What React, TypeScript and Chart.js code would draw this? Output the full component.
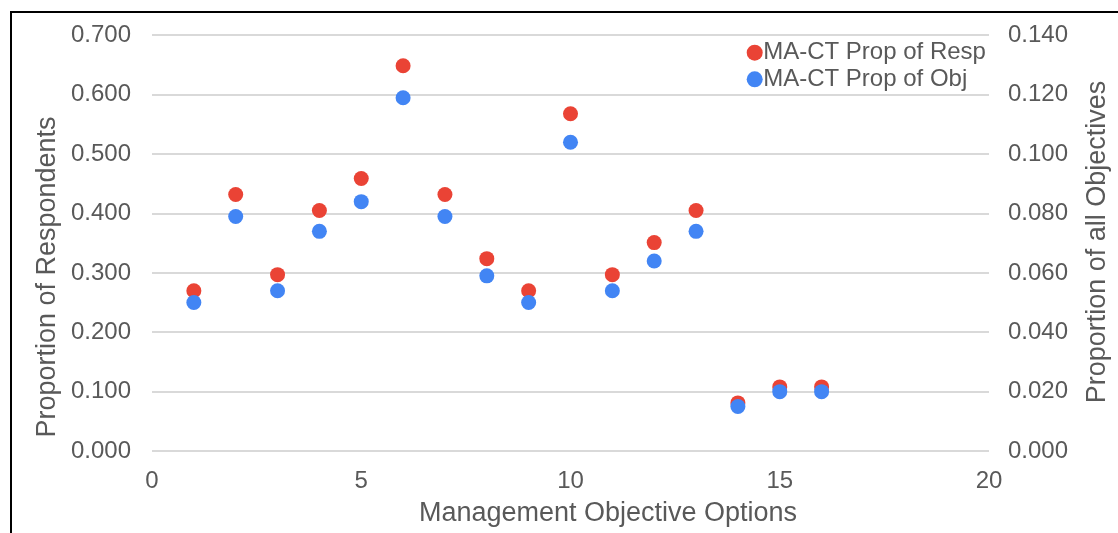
import React, { useEffect, useRef } from "react";
import { Chart, registerables } from "chart.js";

Chart.register(...registerables);

// ---- data ----
const optionNumbers = [1, 2, 3, 4, 5, 6, 7, 8, 9, 10, 11, 12, 13, 14, 15, 16];
const propOfResp = [0.270, 0.432, 0.297, 0.405, 0.459, 0.649, 0.432, 0.324, 0.270, 0.568, 0.297, 0.351, 0.405, 0.081, 0.108, 0.108];
const propOfObj = [0.050, 0.079, 0.054, 0.074, 0.084, 0.119, 0.079, 0.059, 0.050, 0.104, 0.054, 0.064, 0.074, 0.015, 0.020, 0.020];
const seriesLabels = ["MA-CT Prop of Resp", "MA-CT Prop of Obj"];
const xTitle = "Management Objective Options";
const yLeftTitle = "Proportion of Respondents";
const yRightTitle = "Proportion of all Objectives";

const FONT = "'Liberation Sans', Arial, sans-serif";
const TEXT = "#595959";
const RED = "#EA4335";
const BLUE = "#4285F4";
const GRID = "#D9D9D9";

const insideLegend = {
  id: "insideLegend",
  afterDraw(chart: any, _args: any, opts: any) {
    const ctx = chart.ctx;
    ctx.save();
    ctx.font = `${opts.fontSize}px ${FONT}`;
    ctx.textBaseline = "middle";
    ctx.textAlign = "left";
    chart.data.datasets.forEach((ds: any, i: number) => {
      const y = opts.y + i * opts.lineGap;
      ctx.fillStyle = ds.backgroundColor;
      ctx.beginPath();
      ctx.arc(opts.x, y, opts.r, 0, Math.PI * 2);
      ctx.fill();
      ctx.fillStyle = TEXT;
      ctx.fillText(ds.label, opts.x + opts.textGap, y);
    });
    ctx.restore();
  },
};

const axisTitles = {
  id: "axisTitles",
  afterDraw(chart: any, _args: any, opts: any) {
    const ctx = chart.ctx;
    ctx.save();
    ctx.font = `${opts.fontSize}px ${FONT}`;
    ctx.fillStyle = TEXT;
    ctx.textBaseline = "middle";
    ctx.textAlign = "center";
    opts.items.forEach((it: any) => {
      ctx.save();
      ctx.translate(it.x, it.y);
      ctx.rotate(it.rotation);
      ctx.fillText(it.text, 0, 0);
      ctx.restore();
    });
    ctx.restore();
  },
};

export default function App() {
  const ref = useRef<HTMLCanvasElement | null>(null);

  useEffect(() => {
    if (!ref.current) return;
    const tickFont = { family: FONT, size: 24 };
    const chart = new Chart(ref.current, {
      type: "scatter",
      data: {
        datasets: [
          {
            label: seriesLabels[0],
            data: optionNumbers.map((x, i) => ({ x, y: propOfResp[i] })),
            yAxisID: "y",
            backgroundColor: RED,
            borderColor: RED,
            borderWidth: 0,
            pointRadius: 7.5,
            pointHoverRadius: 7.5,
            order: 2,
          },
          {
            label: seriesLabels[1],
            data: optionNumbers.map((x, i) => ({ x, y: propOfObj[i] })),
            yAxisID: "y1",
            backgroundColor: BLUE,
            borderColor: BLUE,
            borderWidth: 0,
            pointRadius: 7.5,
            pointHoverRadius: 7.5,
            order: 1,
          },
        ],
      },
      options: {
        responsive: false,
        animation: false,
        devicePixelRatio: 1,
        layout: { padding: { top: 34, left: 0, right: 0, bottom: 0 } },
        plugins: {
          legend: { display: false },
          tooltip: { enabled: false },
          insideLegend: { x: 754.7, y: 52.7, lineGap: 26.6, r: 8, textGap: 8.5, fontSize: 24 },
          axisTitles: {
            fontSize: 27,
            items: [
              { text: xTitle, x: 608, y: 514, rotation: 0 },
              { text: yLeftTitle, x: 48, y: 277, rotation: -Math.PI / 2 },
              { text: yRightTitle, x: 1098, y: 242, rotation: -Math.PI / 2 },
            ],
          },
        } as any,
        scales: {
          x: {
            type: "linear",
            min: 0,
            max: 20,
            ticks: { stepSize: 5, padding: 8, font: tickFont, color: TEXT },
            grid: { display: false },
            border: { display: false },
            afterFit: (s: any) => {
              s.height = 82;
            },
          },
          y: {
            type: "linear",
            position: "left",
            min: 0,
            max: 0.7,
            ticks: {
              stepSize: 0.1,
              padding: 21,
              font: tickFont,
              color: TEXT,
              callback: (v: any) => Number(v).toFixed(3),
            },
            grid: { color: GRID, lineWidth: 2, drawTicks: false },
            border: { display: false },
            afterFit: (s: any) => {
              s.width = 152;
            },
          },
          y1: {
            type: "linear",
            position: "right",
            min: 0,
            max: 0.14,
            ticks: {
              stepSize: 0.02,
              padding: 19,
              font: tickFont,
              color: TEXT,
              callback: (v: any) => Number(v).toFixed(3),
            },
            grid: { display: false, drawTicks: false },
            border: { display: false },
            afterFit: (s: any) => {
              s.width = 129;
            },
          },
        },
      } as any,
      plugins: [insideLegend, axisTitles],
    });
    return () => chart.destroy();
  }, []);

  return (
    <div
      style={{
        position: "fixed",
        left: 0,
        top: 0,
        width: 1118,
        height: 533,
        overflow: "hidden",
        background: "#fff",
      }}
    >
      <canvas ref={ref} width={1118} height={533} style={{ display: "block" }} />
      <div
        style={{
          position: "absolute",
          left: 10,
          top: 11,
          width: 2000,
          height: 2000,
          borderLeft: "2px solid #000",
          borderTop: "2px solid #000",
          pointerEvents: "none",
        }}
      />
    </div>
  );
}
